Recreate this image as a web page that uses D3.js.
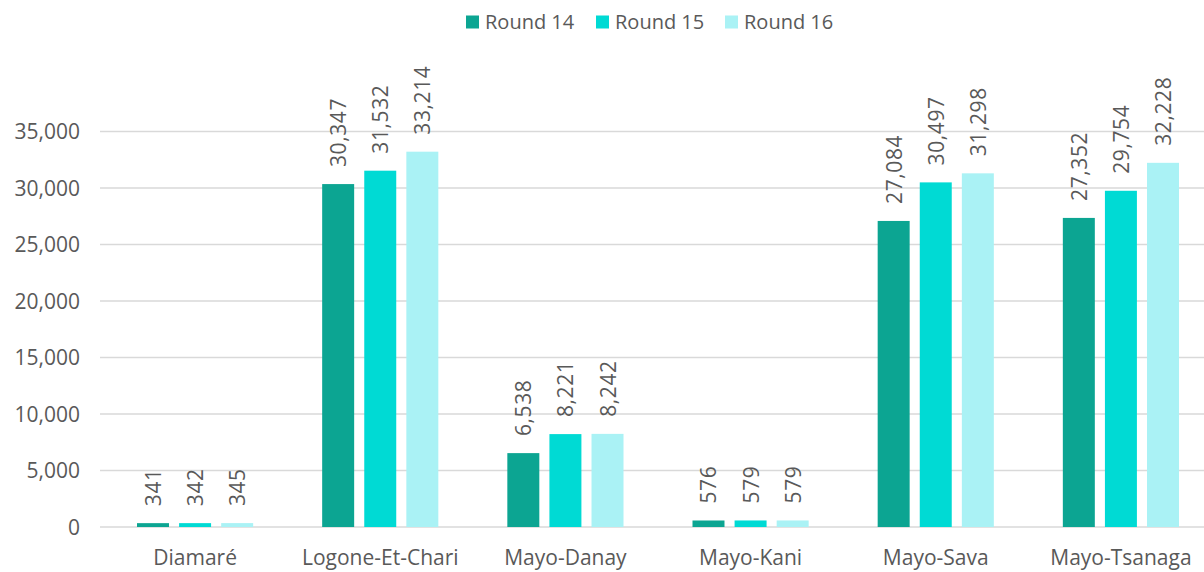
<!DOCTYPE html>
<html>
<head>
<meta charset="utf-8">
<script src="https://cdn.jsdelivr.net/npm/d3@7"></script>
<style>
  html, body { margin: 0; padding: 0; background: #fff; }
  svg { display: block; font-family: "Open Sans", "Noto Sans", sans-serif; }
</style>
</head>
<body>
<svg id="chart" width="1204" height="572"></svg>
<script>
// Departments of the Far North region
const categories = ["Diamaré", "Logone-Et-Chari", "Mayo-Danay", "Mayo-Kani", "Mayo-Sava", "Mayo-Tsanaga"];
const seriesNames = ["Round 14", "Round 15", "Round 16"];
const round14 = [341, 30347, 6538, 576, 27084, 27352];
const round15 = [342, 31532, 8221, 579, 30497, 29754];
const round16 = [345, 33214, 8242, 579, 31298, 32228];
const yTicks = [0, 5000, 10000, 15000, 20000, 25000, 30000, 35000];
const colors = ["#0ca592", "#00dad4", "#aaf2f5"];

const seriesValues = [round14, round15, round16];

const svg = d3.select("#chart");
const width = 1204, height = 572;
const plotLeft = 100, plotTop = 131.5, plotBottom = 527;

// The plot area runs slightly past the right edge of the canvas
const x0 = d3.scaleBand().domain(categories).range([102.5, 1213.5]).padding(0);
const groupPad = 34.5;
const x1 = d3.scaleBand().domain(seriesNames)
  .range([groupPad, x0.bandwidth() - groupPad]).paddingInner(0.24).paddingOuter(0);
const y = d3.scaleLinear().domain([0, 35000]).range([plotBottom, plotTop]);

const fmt = d3.format(",");
const textColor = "#595959";

// Gridlines
svg.append("g").selectAll("line").data(yTicks).join("line")
  .attr("x1", plotLeft).attr("x2", width)
  .attr("y1", d => y(d)).attr("y2", d => y(d))
  .attr("stroke", "#d9d9d9").attr("stroke-width", 1.5);

// Y axis labels
const yAxis = d3.axisLeft(y).tickValues(yTicks).tickFormat(fmt).tickSize(0).tickPadding(0);
const yg = svg.append("g").attr("transform", `translate(${plotLeft - 20},0)`).call(yAxis);
yg.select(".domain").remove();
yg.selectAll("text").attr("fill", textColor).style("font-size", "21px")
  .style("font-family", "'Open Sans', sans-serif").attr("dy", "0.35em");

// X axis labels
const xAxis = d3.axisBottom(x0).tickSize(0).tickPadding(0);
const xg = svg.append("g").attr("transform", `translate(0,${plotBottom})`).call(xAxis);
xg.select(".domain").remove();
xg.selectAll("text").attr("fill", textColor).style("font-size", "21px")
  .style("font-family", "'Open Sans', sans-serif").attr("y", 38).attr("dy", "0");

// Bars and rotated value labels
const rows = categories.map((c, i) => ({ cat: c, vals: seriesNames.map((s, j) => ({ s, j, v: seriesValues[j][i] })) }));
const groups = svg.append("g").selectAll("g").data(rows).join("g")
  .attr("transform", d => `translate(${x0(d.cat)},0)`);

groups.selectAll("rect").data(d => d.vals).join("rect")
  .attr("x", d => x1(d.s)).attr("width", x1.bandwidth())
  .attr("y", d => y(d.v)).attr("height", d => plotBottom - y(d.v))
  .attr("fill", d => colors[d.j]);

groups.selectAll("text").data(d => d.vals).join("text")
  .attr("transform", d => `translate(${x1(d.s) + x1.bandwidth() / 2 + 8},${y(d.v) - 17}) rotate(-90)`)
  .attr("text-anchor", "start")
  .attr("fill", textColor).style("font-size", "21px")
  .style("letter-spacing", "0.6px")
  .text(d => fmt(d.v));

// Legend
const legend = svg.append("g").attr("transform", "translate(466,22)");
const legendX = [0, 130, 259];
seriesNames.forEach((s, i) => {
  const g = legend.append("g").attr("transform", `translate(${legendX[i]},0)`);
  g.append("rect").attr("x", 0).attr("y", -6.5).attr("width", 13).attr("height", 13).attr("fill", colors[i]);
  g.append("text").attr("x", 19).attr("y", 0).attr("dy", "0.35em")
    .attr("fill", textColor).style("font-size", "20px").text(s);
});
</script>
</body>
</html>
